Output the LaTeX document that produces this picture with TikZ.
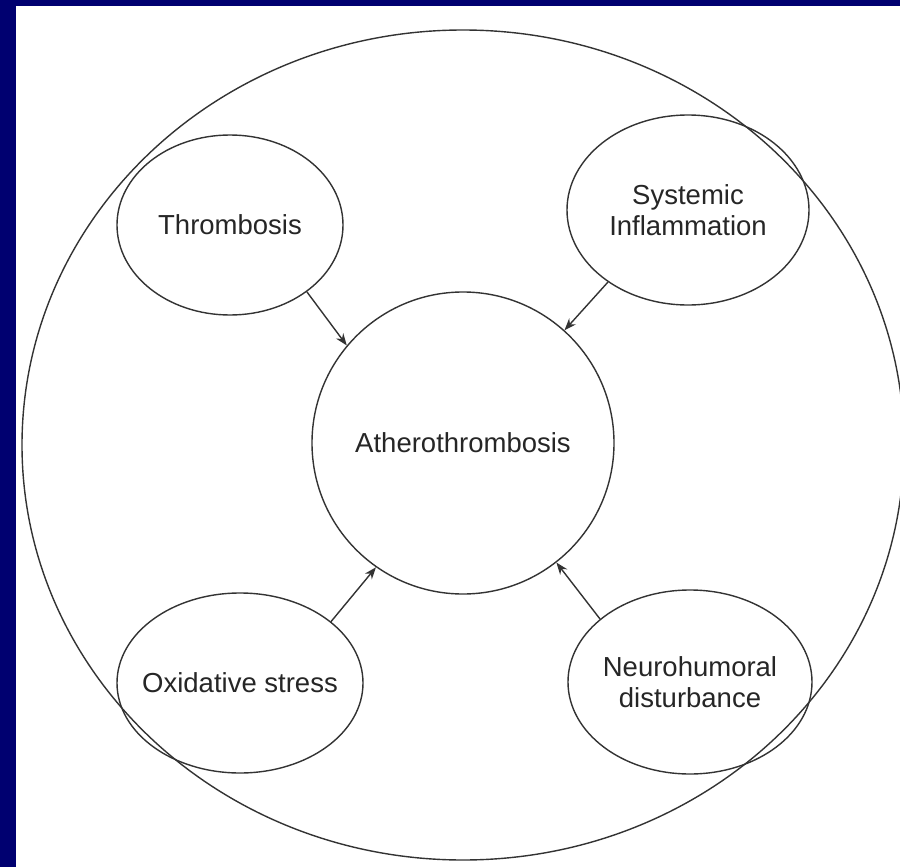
\documentclass[tikz,border=0pt]{standalone}
\usepackage{fontspec}
\setmainfont{Liberation Sans}
\usetikzlibrary{shapes.geometric, arrows.meta}
\definecolor{slideblue}{RGB}{0,0,112}

\begin{document}
\begin{tikzpicture}[x=1pt, y=-1pt,
	factor/.style={draw=black!80, line width=1.4pt, ellipse, inner xsep=-12pt, inner ysep=0pt, align=center,
		text=black!85, font=\fontsize{27.5}{31}\selectfont},
	link/.style={draw=black!80, line width=1.4pt, -{Stealth[length=12pt,width=9pt]}}]
			\useasboundingbox (0,0) rectangle (900,867);
			\fill[slideblue] (0,0) rectangle (900,867); % frame
			\fill[white] (16,6) rectangle (900,867); % slide
			\begin{scope}
				\clip (16,6) rectangle (900,867);
				\draw[black!80, line width=1.4pt] (463,445) ellipse [x radius=441, y radius=415]; % outer ring, cut at the right edge
			\end{scope}
			% centre and factors
			\node[factor, circle, minimum size=302pt] (athero) at (463,443) {Atherothrombosis};
			\node[factor, minimum width=226pt, minimum height=180pt] (thromb) at (230,225) {Thrombosis};
			\node[factor, minimum width=242pt, minimum height=190pt] (inflam) at (688,210) {Systemic\\Inflammation};
			\node[factor, minimum width=246pt, minimum height=180pt] (oxid) at (240,683) {Oxidative stress};
			\node[factor, minimum width=244pt, minimum height=184pt] (neuro) at (690,682) {Neurohumoral\\disturbance};
			% arrows
			\draw[link] (thromb.-41) -- (athero.140);
			\draw[link] (inflam.222) -- (athero.48);
			\draw[link] (oxid.34) -- (athero.235);
			\draw[link] (neuro.145) -- (athero.-52);
\end{tikzpicture}
\end{document}
